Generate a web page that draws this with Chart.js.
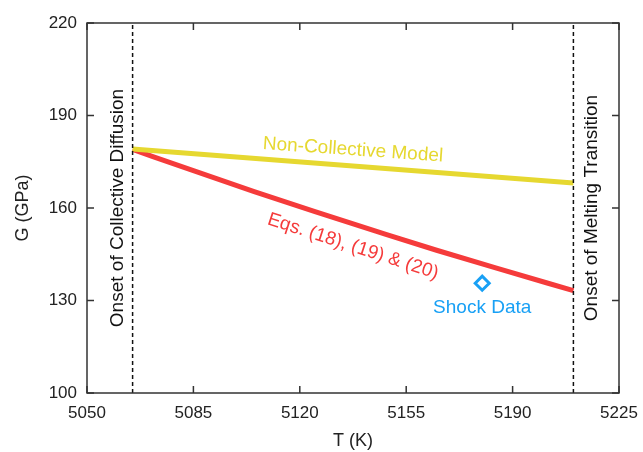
<!DOCTYPE html>
<html>
<head>
<meta charset="utf-8">
<script src="https://cdn.jsdelivr.net/npm/chart.js@4.4.1/dist/chart.umd.min.js"></script>
<style>
  html, body { margin: 0; padding: 0; background: #fff; }
  #wrap { width: 643px; height: 452px; }
</style>
</head>
<body>
<div id="wrap"><canvas id="shearChart" width="643" height="452"></canvas></div>
<script>
// values
var tempTicks = [5050, 5085, 5120, 5155, 5190, 5225];
var gTicks = [100, 130, 160, 190, 220];

var nonCollT = [5065, 5210];
var nonCollG = [179.1, 168.1];

var eqsT = [5065, 5085, 5105, 5125, 5145, 5165, 5185, 5210];
var eqsG = [179.0, 172.1, 165.3, 158.8, 152.5, 146.3, 140.4, 133.2];

var shockT = [5180];
var shockG = [135.6];

var onsetT = [5065, 5210]; // collective diffusion, melting transition

var FONT = "'Liberation Sans', Arial, sans-serif";
var YELLOW = '#e6d830';
var RED = '#f53b3b';
var BLUE = '#18a0f5';

function pts(xs, ys) {
    return xs.map(function (x, i) { return { x: x, y: ys[i] }; });
}

// text labels inside the plot (data coords, rotation in degrees)
var notes = [
    { text: 'Non-Collective Model', x: 5137.5, y: 178.8, rot: 4, color: YELLOW },
    { text: 'Eqs. (18), (19) & (20)', x: 5137.5, y: 147.5, rot: 18, color: RED },
    { text: 'Shock Data', x: 5180, y: 127.6, rot: 0, color: BLUE },
    { text: 'Onset of Collective Diffusion', x: 5060, y: 160, rot: -90, color: '#111' },
    { text: 'Onset of Melting Transition', x: 5216, y: 160, rot: -90, color: '#111' }
];

// frame + inward ticks + text notes
var framePlugin = {
    id: 'frame',
    afterDatasetsDraw: function (chart) {
        var ctx = chart.ctx;
        var a = chart.chartArea;
        var xs = chart.scales.x, ys = chart.scales.y;
        ctx.save();
        ctx.strokeStyle = '#333';
        ctx.lineWidth = 1.5;
        ctx.strokeRect(a.left, a.top, a.right - a.left, a.bottom - a.top);
        var len = 7;
        ctx.beginPath();
        tempTicks.forEach(function (t) {
            var px = xs.getPixelForValue(t);
            ctx.moveTo(px, a.bottom); ctx.lineTo(px, a.bottom - len);
            ctx.moveTo(px, a.top); ctx.lineTo(px, a.top + len);
        });
        gTicks.forEach(function (g) {
            var py = ys.getPixelForValue(g);
            ctx.moveTo(a.left, py); ctx.lineTo(a.left + len, py);
            ctx.moveTo(a.right, py); ctx.lineTo(a.right - len, py);
        });
        ctx.stroke();

        ctx.font = '19px ' + FONT;
        ctx.textAlign = 'center';
        ctx.textBaseline = 'middle';
        notes.forEach(function (n) {
            ctx.save();
            ctx.translate(xs.getPixelForValue(n.x), ys.getPixelForValue(n.y));
            ctx.rotate(n.rot * Math.PI / 180);
            ctx.fillStyle = n.color;
            ctx.fillText(n.text, 0, 0);
            ctx.restore();
        });
        ctx.restore();
    }
};

var ctx = document.getElementById('shearChart').getContext('2d');
var shearChart = new Chart(ctx, {
    type: 'scatter',
    data: {
        datasets: [
            {
                label: 'Onset of Collective Diffusion',
                data: pts([onsetT[0], onsetT[0]], [gTicks[0], gTicks[gTicks.length - 1]]),
                showLine: true, borderColor: '#111', borderWidth: 1.5,
                borderDash: [4, 3], pointRadius: 0
            },
            {
                label: 'Onset of Melting Transition',
                data: pts([onsetT[1], onsetT[1]], [gTicks[0], gTicks[gTicks.length - 1]]),
                showLine: true, borderColor: '#111', borderWidth: 1.5,
                borderDash: [4, 3], pointRadius: 0
            },
            {
                label: 'Non-Collective Model',
                data: pts(nonCollT, nonCollG),
                showLine: true, borderColor: YELLOW, borderWidth: 5, pointRadius: 0
            },
            {
                label: 'Eqs. (18), (19) & (20)',
                data: pts(eqsT, eqsG),
                showLine: true, borderColor: RED, borderWidth: 5,
                pointRadius: 0, cubicInterpolationMode: 'monotone'
            },
            {
                label: 'Shock Data',
                data: pts(shockT, shockG),
                pointStyle: 'rectRot', pointRadius: 7, borderWidth: 3,
                borderColor: BLUE, backgroundColor: '#fff'
            }
        ]
    },
    options: {
        responsive: false,
        animation: false,
        layout: { padding: { left: 0, right: 24, top: 23, bottom: 0 } },
        plugins: { legend: { display: false }, tooltip: { enabled: false } },
        scales: {
            x: {
                type: 'linear', min: 5050, max: 5225,
                afterBuildTicks: function (s) { s.ticks = tempTicks.map(function (v) { return { value: v }; }); },
                afterFit: function (s) { s.height = 59; s.paddingLeft = 0; s.paddingRight = 0; },
                grid: { display: false, drawTicks: false }, border: { display: false },
                ticks: { padding: 10, color: '#222', font: { family: FONT, size: 17 },
                         callback: function (v) { return String(v); } },
                title: { display: true, text: 'T (K)', color: '#222', padding: { top: 0, bottom: 0 },
                         font: { family: FONT, size: 18 } }
            },
            y: {
                type: 'linear', min: 100, max: 220,
                afterBuildTicks: function (s) { s.ticks = gTicks.map(function (v) { return { value: v }; }); },
                afterFit: function (s) { s.width = 87; s.paddingTop = 0; s.paddingBottom = 0; },
                grid: { display: false, drawTicks: false }, border: { display: false },
                ticks: { padding: 10, color: '#222', font: { family: FONT, size: 17 },
                         callback: function (v) { return String(v); } },
                title: { display: true, text: 'G (GPa)', color: '#222', padding: { top: 12, bottom: 0 },
                         font: { family: FONT, size: 18 } }
            }
        }
    },
    plugins: [framePlugin]
});
</script>
</body>
</html>
